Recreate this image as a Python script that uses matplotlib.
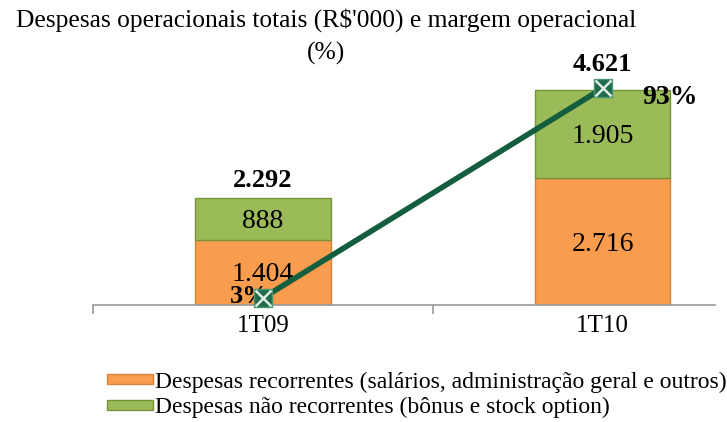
import matplotlib.pyplot as plt
import numpy as np

# dados
categorias = ['1T09', '1T10']
recorrentes = [1404, 2716]
nao_recorrentes = [888, 1905]
totais = [2292, 4621]
margem = [3, 93]
rotulos_rec = ['1.404', '2.716']
rotulos_nao = ['888', '1.905']
rotulos_tot = ['2.292', '4.621']
rotulos_margem = ['3%', '93%']

plt.rcParams['font.family'] = ['Liberation Serif', 'DejaVu Serif']

fig = plt.figure(figsize=(7.27, 4.22), dpi=100)
ax = fig.add_axes([0.128, 0.2773, 0.855, 0.552])
x = np.arange(len(categorias))
w = 0.4

laranja = '#F89C4E'
verde = '#9BBB59'
b1 = ax.bar(x, recorrentes, w, color=laranja, edgecolor='#D9823A', linewidth=1.0,
            label='Despesas recorrentes (salários, administração geral e outros)')
b2 = ax.bar(x, nao_recorrentes, w, bottom=recorrentes, color=verde, edgecolor='#77933C',
            linewidth=1.0, label='Despesas não recorrentes (bônus e stock option)')

# deslocamento do rótulo do total (pontos) - o segundo fica acima do marcador
desloc_tot = [13, 18]
for i in range(len(x)):
    ax.text(x[i], recorrentes[i] * 0.5 - 50, rotulos_rec[i], ha='center', va='center', fontsize=20)
    ax.annotate(rotulos_nao[i], (x[i], recorrentes[i] + nao_recorrentes[i] * 0.5),
                xytext=(0, -2), textcoords='offset points', ha='center', va='center',
                fontsize=20)
    ax.annotate(rotulos_tot[i], (x[i], totais[i]), xytext=(0, desloc_tot[i]),
                textcoords='offset points', ha='center', va='center', fontsize=19,
                fontweight='bold')

ax.set_xlim(-0.5, 1.33)
ax.set_ylim(0, 5000)
ax.set_xticks(x)
ax.set_xticklabels(categorias, fontsize=18)
ax.tick_params(axis='x', length=0, pad=7)
ax.set_xticks([-0.5, 0.5], minor=True)
ax.tick_params(axis='x', which='minor', length=6.5, color='#999999', width=1.2)
ax.set_yticks([])
for s in ['top', 'right', 'left']:
    ax.spines[s].set_visible(False)
ax.spines['bottom'].set_color('#999999')
ax.spines['bottom'].set_linewidth(1.2)

ax2 = ax.twinx()
ax2.set_ylim(0, 100)
ax2.plot(x, margem, color='#135E3E', linewidth=4, zorder=3, clip_on=False)
ax2.plot(x, margem, 's', color='#1F6B4A', markersize=12.5, markeredgecolor='#4A9676',
         zorder=4, clip_on=False)
ax2.plot(x, margem, 'x', color='#DDEEE6', markersize=11, markeredgewidth=1.8, zorder=5,
         clip_on=False)
ax2.text(x[0] - 0.04, margem[0] + 0.5, rotulos_margem[0], ha='center', va='center',
         fontsize=19, fontweight='bold')
ax2.text(x[1] + 0.2, margem[1] - 4, rotulos_margem[1], ha='center', va='center',
         fontsize=20, fontweight='bold')
ax2.set_yticks([])
for s in ['top', 'right', 'left', 'bottom']:
    ax2.spines[s].set_visible(False)

fig.text(0.449, 0.953, 'Despesas operacionais totais (R$\'000) e margem operacional',
         ha='center', va='center', fontsize=18.4)
fig.text(0.449, 0.874, '(%)', ha='center', va='center', fontsize=18.4)

fig.legend(handles=[b1, b2], loc='center left', bbox_to_anchor=(0.147, 0.064),
           frameon=False, fontsize=17, handlelength=1.95, handleheight=0.3,
           handletextpad=0.1, labelspacing=0.19, borderpad=0, borderaxespad=0)

fig.savefig('out.png', dpi=100)
